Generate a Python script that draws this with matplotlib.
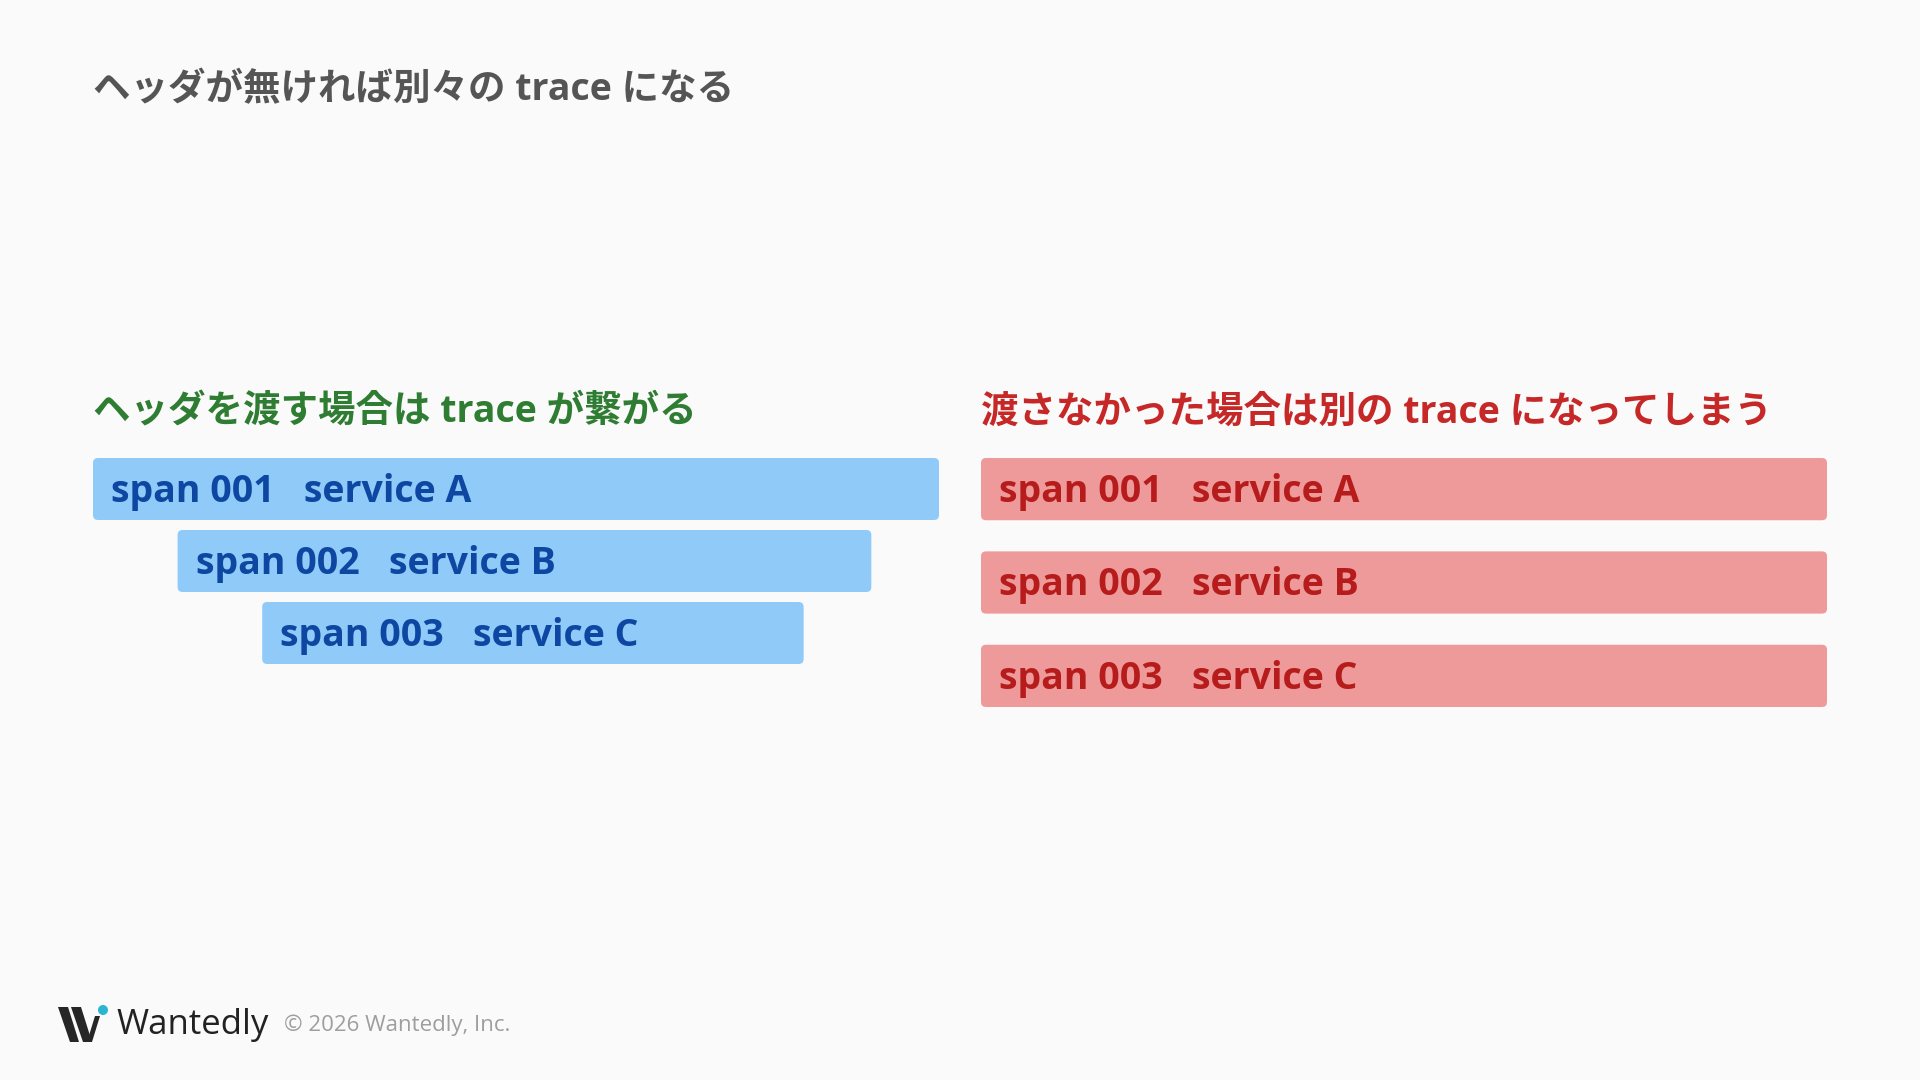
import matplotlib.pyplot as plt
from matplotlib.patches import FancyBboxPatch, Polygon, Circle
from matplotlib.transforms import offset_copy

plt.rcParams['font.family'] = ['Open Sans', 'Noto Sans CJK JP', 'DejaVu Sans']

title = 'ヘッダが無ければ別々の trace になる'
left_title = 'ヘッダを渡す場合は trace が繋がる'
right_title = '渡さなかった場合は別の trace になってしまう'

span_ids = ['span 001', 'span 002', 'span 003']
services = ['service A', 'service B', 'service C']
# 相対時間 (0-100)
left_start = [0, 10, 20]
left_end = [100, 92, 84]
right_start = [0, 0, 0]
right_end = [100, 100, 100]

BG = '#fafafa'

fig = plt.figure(figsize=(19.2, 10.8), dpi=100, facecolor=BG)
W, H = 1920, 1080


def px_axes(x0, y0, x1, y1):
    return fig.add_axes([x0 / W, 1 - y1 / H, (x1 - x0) / W, (y1 - y0) / H])


def draw_spans(ax, starts, ends, pitch, bar_h, face, txt_color):
    n = len(starts)
    ax.set_xlim(0, 100)
    ax.set_ylim(n - 1 + bar_h / pitch / 2, -bar_h / pitch / 2)
    ax.axis('off')
    fig.canvas.draw()
    bb = ax.get_window_extent()
    ux = 100 / bb.width           # x単位/px
    uy = (n - 1 + bar_h / pitch) / bb.height  # y単位/px
    r = 5 * ux
    for i in range(n):
        h = bar_h / pitch
        p = FancyBboxPatch((starts[i], i - h / 2), ends[i] - starts[i], h,
                           boxstyle=f'round,pad=0,rounding_size={r}',
                           mutation_aspect=uy / ux,
                           fc=face, ec='none', clip_on=False)
        ax.add_patch(p)
        tr = offset_copy(ax.transData, fig=fig, x=18, y=-3, units='dots')
        ax.text(starts[i], i, f'{span_ids[i]}   {services[i]}', transform=tr,
                va='center', ha='left', fontsize=27, fontweight='bold',
                color=txt_color)


axl = px_axes(93, 458, 939, 664)
draw_spans(axl, left_start, left_end, 72, 62, '#90caf9', '#0d47a1')
axr = px_axes(981, 458, 1827, 707)
draw_spans(axr, right_start, right_end, 93, 62, '#ef9a9a', '#b71c1c')

fig.text(93 / W, 1 - 90 / H, title, fontsize=27, fontweight='bold',
         color='#555555', va='center', ha='left')
fig.text(93 / W, 1 - 413 / H, left_title, fontsize=27, fontweight='bold',
         color='#2e7d32', va='center', ha='left')
fig.text(981 / W, 1 - 413 / H, right_title, fontsize=27, fontweight='bold',
         color='#c62828', va='center', ha='left')

# footer (Wantedly logo)
ov = fig.add_axes([0, 0, 1, 1])
ov.set_xlim(0, W)
ov.set_ylim(H, 0)
ov.axis('off')
ov.patch.set_alpha(0)
for pts in [[(58, 1007), (68, 1007), (79, 1042), (70, 1042)],
            [(71, 1007), (81, 1007), (92, 1042), (83, 1042)],
            [(95, 1016), (100, 1016), (92, 1042), (87, 1042)]]:
    ov.add_patch(Polygon(pts, closed=True, fc='#262626', ec='none'))
ov.add_patch(Circle((103, 1010), 5, fc='#2bb5d3', ec='none'))
ov.text(116, 1025, 'Wantedly', fontsize=25, color='#222222',
        va='center', ha='left')
ov.text(284, 1025, '© 2026 Wantedly, Inc.', fontsize=16, color='#9e9e9e',
        va='center', ha='left')

fig.savefig('out.png', dpi=100, facecolor=BG)
